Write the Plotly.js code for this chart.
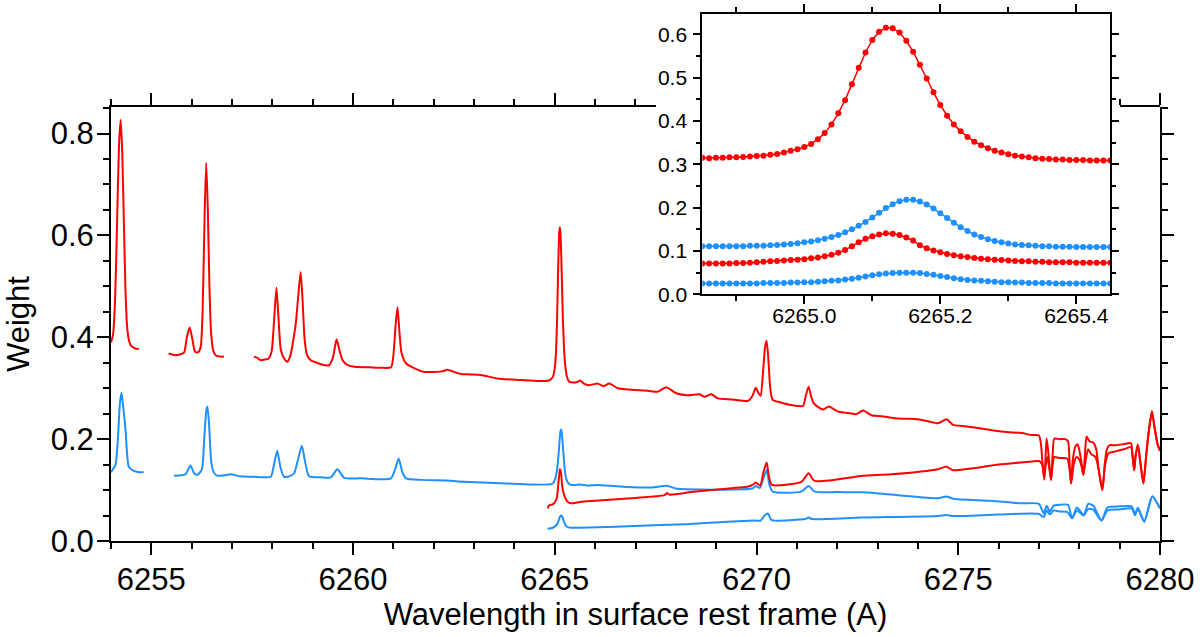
<!DOCTYPE html>
<html>
<head>
<meta charset="utf-8">
<script src="https://cdn.plot.ly/plotly-3.0.1.min.js"></script>
<style>
  html, body { margin: 0; padding: 0; background: #fff; }
  #graph { width: 1200px; height: 637px; }
</style>
</head>
<body>
<div id="graph"></div>
<script>
// Spectra: [wavelength (A), weight]; null = gap in the data
const upperRed = [
  [6254.00, 0.390], [6254.05, 0.405], [6254.10, 0.470], [6254.15, 0.623], [6254.20, 0.780],
  [6254.24, 0.827], [6254.28, 0.760], [6254.32, 0.623], [6254.36, 0.490], [6254.40, 0.420],
  [6254.45, 0.392], [6254.50, 0.383], [6254.60, 0.378], [6254.69, 0.377],
  [6255.00, null],
  [6255.43, 0.368], [6255.56, 0.365], [6255.70, 0.366], [6255.81, 0.370], [6255.88, 0.400],
  [6255.95, 0.419], [6256.02, 0.395], [6256.08, 0.372], [6256.15, 0.370], [6256.22, 0.380],
  [6256.27, 0.450], [6256.32, 0.640], [6256.36, 0.742], [6256.40, 0.650], [6256.44, 0.500],
  [6256.48, 0.410], [6256.53, 0.375], [6256.60, 0.364], [6256.70, 0.362], [6256.80, 0.362],
  [6257.20, null],
  [6257.54, 0.362], [6257.62, 0.360], [6257.71, 0.355], [6257.80, 0.356], [6257.90, 0.358],
  [6257.98, 0.372], [6258.04, 0.430], [6258.10, 0.497], [6258.15, 0.440], [6258.21, 0.375],
  [6258.30, 0.357], [6258.37, 0.352], [6258.45, 0.365], [6258.52, 0.395], [6258.58, 0.427],
  [6258.64, 0.480], [6258.70, 0.528], [6258.75, 0.470], [6258.80, 0.395], [6258.86, 0.365],
  [6258.95, 0.355], [6259.10, 0.350], [6259.20, 0.347], [6259.40, 0.345], [6259.50, 0.360],
  [6259.59, 0.396], [6259.66, 0.375], [6259.74, 0.355], [6259.85, 0.346], [6260.03, 0.342],
  [6260.40, 0.341], [6260.70, 0.340], [6260.94, 0.341], [6261.00, 0.365], [6261.05, 0.420],
  [6261.10, 0.459], [6261.15, 0.410], [6261.20, 0.370], [6261.31, 0.349], [6261.50, 0.340],
  [6261.76, 0.332], [6262.00, 0.332], [6262.20, 0.333], [6262.34, 0.336], [6262.50, 0.332],
  [6262.67, 0.328], [6262.90, 0.327], [6263.17, 0.326], [6263.58, 0.319], [6264.16, 0.316],
  [6264.60, 0.314], [6264.85, 0.315], [6264.95, 0.322], [6265.00, 0.340], [6265.03, 0.372],
  [6265.05, 0.418], [6265.07, 0.485], [6265.09, 0.558], [6265.11, 0.606], [6265.125, 0.616],
  [6265.14, 0.604], [6265.16, 0.560], [6265.18, 0.498], [6265.20, 0.437], [6265.23, 0.376],
  [6265.26, 0.344], [6265.30, 0.323], [6265.35, 0.313], [6265.44, 0.311], [6265.55, 0.312],
  [6265.63, 0.315], [6265.72, 0.309], [6265.86, 0.306], [6266.06, 0.309], [6266.21, 0.304],
  [6266.35, 0.309], [6266.56, 0.300], [6266.90, 0.297], [6267.31, 0.295], [6267.55, 0.293],
  [6267.76, 0.302], [6268.01, 0.290], [6268.30, 0.286], [6268.59, 0.288], [6268.71, 0.283],
  [6268.88, 0.288], [6269.04, 0.280], [6269.40, 0.278], [6269.79, 0.275], [6269.90, 0.285],
  [6269.98, 0.301], [6270.05, 0.290], [6270.10, 0.285], [6270.16, 0.330], [6270.21, 0.380],
  [6270.25, 0.393], [6270.29, 0.360], [6270.34, 0.300], [6270.40, 0.277], [6270.60, 0.272],
  [6270.86, 0.267], [6271.15, 0.265], [6271.22, 0.285], [6271.29, 0.303], [6271.35, 0.285],
  [6271.42, 0.270], [6271.65, 0.258], [6271.79, 0.264], [6272.02, 0.254], [6272.20, 0.252],
  [6272.47, 0.249], [6272.64, 0.256], [6272.85, 0.247], [6273.10, 0.245], [6273.42, 0.241],
  [6273.70, 0.240], [6274.00, 0.239], [6274.25, 0.235], [6274.50, 0.231], [6274.71, 0.239],
  [6274.87, 0.228], [6275.10, 0.226], [6275.41, 0.223], [6275.80, 0.218], [6276.20, 0.214],
  [6276.57, 0.212], [6276.82, 0.208], [6277.00, 0.207], [6277.05, 0.190], [6277.09, 0.150],
  [6277.13, 0.120], [6277.16, 0.160], [6277.19, 0.201], [6277.23, 0.175], [6277.27, 0.140],
  [6277.30, 0.120], [6277.34, 0.170], [6277.38, 0.201], [6277.50, 0.200], [6277.65, 0.200],
  [6277.72, 0.196], [6277.76, 0.150], [6277.79, 0.113], [6277.84, 0.160], [6277.90, 0.185],
  [6277.96, 0.190], [6278.02, 0.170], [6278.06, 0.150], [6278.10, 0.130], [6278.14, 0.170],
  [6278.18, 0.205], [6278.25, 0.196], [6278.35, 0.193], [6278.42, 0.180], [6278.48, 0.140],
  [6278.57, 0.100], [6278.63, 0.150], [6278.68, 0.179], [6278.75, 0.188], [6278.90, 0.188],
  [6279.10, 0.190], [6279.28, 0.192], [6279.32, 0.165], [6279.36, 0.139], [6279.40, 0.170],
  [6279.45, 0.190], [6279.52, 0.150], [6279.59, 0.113], [6279.66, 0.170], [6279.73, 0.220],
  [6279.80, 0.254], [6279.87, 0.220], [6279.94, 0.190], [6280.00, 0.177]
];

const upperBlue = [
  [6254.00, 0.135], [6254.03, 0.139], [6254.11, 0.149], [6254.17, 0.200], [6254.22, 0.270],
  [6254.26, 0.291], [6254.30, 0.265], [6254.36, 0.218], [6254.40, 0.170], [6254.44, 0.146],
  [6254.55, 0.138], [6254.70, 0.135], [6254.81, 0.135],
  [6255.10, null],
  [6255.56, 0.128], [6255.75, 0.129], [6255.85, 0.131], [6255.97, 0.148], [6256.06, 0.133],
  [6256.14, 0.130], [6256.25, 0.140], [6256.31, 0.200], [6256.36, 0.255], [6256.39, 0.264],
  [6256.43, 0.230], [6256.49, 0.152], [6256.56, 0.133], [6256.64, 0.128], [6256.80, 0.129],
  [6256.97, 0.131], [6257.20, 0.127], [6257.54, 0.126], [6257.80, 0.125], [6257.96, 0.126],
  [6258.04, 0.150], [6258.12, 0.177], [6258.20, 0.145], [6258.29, 0.126], [6258.45, 0.128],
  [6258.54, 0.133], [6258.62, 0.155], [6258.73, 0.187], [6258.80, 0.160], [6258.91, 0.127],
  [6259.20, 0.125], [6259.45, 0.125], [6259.61, 0.141], [6259.78, 0.124], [6260.20, 0.123],
  [6260.69, 0.121], [6260.94, 0.123], [6261.04, 0.140], [6261.13, 0.162], [6261.22, 0.135],
  [6261.31, 0.123], [6261.70, 0.120], [6262.34, 0.119], [6262.60, 0.117], [6263.20, 0.115],
  [6263.80, 0.113], [6264.40, 0.111], [6264.85, 0.111], [6264.95, 0.113], [6265.00, 0.120],
  [6265.05, 0.137], [6265.08, 0.158], [6265.10, 0.177], [6265.12, 0.199], [6265.14, 0.215],
  [6265.155, 0.219], [6265.17, 0.214], [6265.19, 0.198], [6265.21, 0.176], [6265.23, 0.155],
  [6265.25, 0.138], [6265.28, 0.123], [6265.32, 0.115], [6265.40, 0.110], [6265.50, 0.110],
  [6265.63, 0.111], [6265.80, 0.109], [6266.06, 0.110], [6266.39, 0.1085], [6266.80, 0.106],
  [6267.40, 0.105], [6267.78, 0.1085], [6268.00, 0.103], [6268.63, 0.101], [6269.40, 0.101],
  [6269.90, 0.103], [6269.98, 0.108], [6270.08, 0.104], [6270.18, 0.125], [6270.25, 0.139],
  [6270.32, 0.110], [6270.40, 0.097], [6271.11, 0.097], [6271.29, 0.108], [6271.44, 0.097],
  [6272.00, 0.096], [6272.64, 0.0955], [6273.50, 0.090], [6274.50, 0.084], [6274.71, 0.0875],
  [6274.87, 0.083], [6275.80, 0.079], [6276.57, 0.074], [6277.00, 0.073], [6277.12, 0.054],
  [6277.19, 0.069], [6277.27, 0.058], [6277.36, 0.069], [6277.50, 0.071], [6277.72, 0.071],
  [6277.82, 0.0445], [6277.94, 0.066], [6278.11, 0.051], [6278.22, 0.073], [6278.35, 0.069],
  [6278.55, 0.040], [6278.70, 0.066], [6279.00, 0.068], [6279.30, 0.068], [6279.38, 0.051],
  [6279.45, 0.066], [6279.61, 0.038], [6279.81, 0.088], [6280.00, 0.064]
];

const lowerRed = [
  [6264.82, 0.064], [6264.86, 0.070], [6264.95, 0.072], [6265.00, 0.076], [6265.05, 0.085],
  [6265.07, 0.096], [6265.09, 0.115], [6265.11, 0.130], [6265.125, 0.141], [6265.14, 0.139],
  [6265.16, 0.130], [6265.18, 0.110], [6265.20, 0.100], [6265.25, 0.086], [6265.30, 0.079],
  [6265.36, 0.075], [6265.45, 0.074], [6265.65, 0.077], [6266.00, 0.079], [6266.89, 0.084],
  [6267.72, 0.090], [6267.78, 0.094], [6267.85, 0.091], [6268.38, 0.096], [6268.88, 0.100],
  [6269.79, 0.107], [6269.90, 0.110], [6269.98, 0.115], [6270.09, 0.109], [6270.17, 0.135],
  [6270.25, 0.154], [6270.31, 0.125], [6270.38, 0.110], [6271.11, 0.116], [6271.29, 0.133],
  [6271.44, 0.118], [6272.64, 0.128], [6273.34, 0.131], [6274.50, 0.141], [6274.71, 0.146],
  [6274.87, 0.139], [6276.00, 0.150], [6276.82, 0.156], [6277.00, 0.157], [6277.08, 0.150],
  [6277.13, 0.125], [6277.17, 0.150], [6277.21, 0.165], [6277.26, 0.140], [6277.30, 0.120],
  [6277.34, 0.150], [6277.38, 0.165], [6277.50, 0.163], [6277.70, 0.162], [6277.76, 0.140],
  [6277.80, 0.113], [6277.86, 0.150], [6277.93, 0.165], [6278.00, 0.160], [6278.06, 0.145],
  [6278.10, 0.130], [6278.16, 0.160], [6278.22, 0.180], [6278.30, 0.170], [6278.40, 0.165],
  [6278.48, 0.140], [6278.57, 0.100], [6278.64, 0.150], [6278.72, 0.172], [6278.90, 0.176],
  [6279.10, 0.180], [6279.28, 0.184], [6279.33, 0.160], [6279.36, 0.139], [6279.40, 0.170],
  [6279.46, 0.186], [6279.52, 0.150], [6279.59, 0.113], [6279.66, 0.170], [6279.73, 0.220],
  [6279.80, 0.254], [6279.87, 0.220], [6279.94, 0.190], [6280.00, 0.177]
];

const lowerBlue = [
  [6264.82, 0.024], [6264.95, 0.026], [6265.05, 0.032], [6265.10, 0.041], [6265.13, 0.048],
  [6265.16, 0.050], [6265.19, 0.047], [6265.22, 0.040], [6265.26, 0.032], [6265.30, 0.028],
  [6265.40, 0.026], [6265.60, 0.026], [6266.50, 0.028], [6267.78, 0.032], [6268.38, 0.0335],
  [6268.63, 0.035], [6269.94, 0.040], [6270.10, 0.040], [6270.20, 0.050], [6270.28, 0.054],
  [6270.36, 0.042], [6270.45, 0.040], [6271.20, 0.043], [6271.29, 0.046], [6271.38, 0.043],
  [6272.60, 0.046], [6274.50, 0.049], [6274.71, 0.051], [6274.87, 0.049], [6276.00, 0.052],
  [6277.00, 0.053], [6277.12, 0.047], [6277.19, 0.060], [6277.27, 0.052], [6277.36, 0.060],
  [6277.50, 0.058], [6277.70, 0.057], [6277.82, 0.0445], [6277.94, 0.060], [6278.11, 0.050],
  [6278.22, 0.063], [6278.35, 0.061], [6278.55, 0.040], [6278.70, 0.060], [6279.00, 0.062],
  [6279.30, 0.064], [6279.38, 0.051], [6279.45, 0.064], [6279.61, 0.038], [6279.81, 0.088],
  [6280.00, 0.064]
];

// Inset: sampled points around the 6265.1 A line
const insetWl = [
  6264.85, 6264.86, 6264.87, 6264.88, 6264.89, 6264.90, 6264.91, 6264.92, 6264.93, 6264.94,
  6264.95, 6264.96, 6264.97, 6264.98, 6264.99, 6265.00, 6265.01, 6265.02, 6265.03, 6265.04,
  6265.05, 6265.06, 6265.07, 6265.08, 6265.09, 6265.10, 6265.11, 6265.12, 6265.13, 6265.14,
  6265.15, 6265.16, 6265.17, 6265.18, 6265.19, 6265.20, 6265.21, 6265.22, 6265.23, 6265.24,
  6265.25, 6265.26, 6265.27, 6265.28, 6265.29, 6265.30, 6265.31, 6265.32, 6265.33, 6265.34,
  6265.35, 6265.36, 6265.37, 6265.38, 6265.39, 6265.40, 6265.41, 6265.42, 6265.43, 6265.44,
  6265.45
];
const insetUpperRed = [
  0.315, 0.314, 0.315, 0.315, 0.316, 0.316, 0.317, 0.318, 0.319, 0.320,
  0.322, 0.324, 0.327, 0.331, 0.335, 0.340, 0.347, 0.358, 0.372, 0.392,
  0.418, 0.448, 0.485, 0.523, 0.558, 0.587, 0.606, 0.615, 0.614, 0.604,
  0.585, 0.560, 0.530, 0.498, 0.466, 0.437, 0.412, 0.392, 0.376, 0.363,
  0.352, 0.344, 0.337, 0.331, 0.327, 0.323, 0.320, 0.318, 0.316, 0.314,
  0.313, 0.312, 0.311, 0.311, 0.310, 0.310, 0.310, 0.309, 0.309, 0.309,
  0.309
];
const insetUpperBlue = [
  0.111, 0.111, 0.111, 0.111, 0.111, 0.111, 0.111, 0.112, 0.112, 0.112,
  0.113, 0.114, 0.115, 0.116, 0.118, 0.120, 0.122, 0.125, 0.128, 0.132,
  0.137, 0.143, 0.150, 0.158, 0.167, 0.177, 0.188, 0.199, 0.208, 0.215,
  0.218, 0.218, 0.214, 0.207, 0.198, 0.187, 0.176, 0.165, 0.155, 0.146,
  0.138, 0.132, 0.127, 0.123, 0.120, 0.117, 0.115, 0.114, 0.113, 0.112,
  0.111, 0.111, 0.110, 0.110, 0.110, 0.109, 0.109, 0.109, 0.109, 0.109,
  0.109
];
const insetLowerRed = [
  0.071, 0.071, 0.071, 0.071, 0.071, 0.072, 0.072, 0.073, 0.074, 0.075,
  0.076, 0.077, 0.078, 0.079, 0.080, 0.081, 0.083, 0.085, 0.088, 0.091,
  0.096, 0.102, 0.111, 0.120, 0.128, 0.134, 0.138, 0.141, 0.140, 0.137,
  0.131, 0.124, 0.113, 0.106, 0.101, 0.097, 0.093, 0.090, 0.088, 0.086,
  0.084, 0.082, 0.081, 0.080, 0.079, 0.078, 0.077, 0.076, 0.076, 0.075,
  0.075, 0.074, 0.074, 0.074, 0.074, 0.073, 0.073, 0.073, 0.073, 0.073,
  0.073
];
const insetLowerBlue = [
  0.025, 0.025, 0.025, 0.025, 0.025, 0.025, 0.025, 0.025, 0.025, 0.026,
  0.026, 0.026, 0.026, 0.027, 0.027, 0.028, 0.028, 0.029, 0.030, 0.031,
  0.032, 0.034, 0.036, 0.038, 0.041, 0.044, 0.046, 0.048, 0.049, 0.050,
  0.050, 0.050, 0.049, 0.047, 0.045, 0.042, 0.040, 0.037, 0.035, 0.033,
  0.032, 0.031, 0.030, 0.029, 0.028, 0.028, 0.027, 0.027, 0.026, 0.026,
  0.026, 0.026, 0.025, 0.025, 0.025, 0.025, 0.025, 0.025, 0.025, 0.025,
  0.025
];

const RED = "rgb(255,0,0)";
const BLUE = "rgb(30,144,255)";
const FONT = "Liberation Sans, Arial, sans-serif";

function spectrumTrace(pairs, color) {
  return {
    x: pairs.map((p) => p[0]),
    y: pairs.map((p) => p[1]),
    mode: "lines",
    type: "scatter",
    line: { color: color, width: 2, shape: "spline", smoothing: 0.6 },
    connectgaps: false,
    hoverinfo: "skip",
  };
}

function insetTrace(values, color) {
  return {
    x: insetWl,
    y: values,
    xaxis: "x2",
    yaxis: "y2",
    mode: "lines+markers",
    type: "scatter",
    line: { color: color, width: 1.5 },
    marker: { color: color, size: 6 },
    hoverinfo: "skip",
  };
}

// empty traces, only so the broken top axis pieces are drawn
const topLeft = { x: [], y: [], xaxis: "x3", yaxis: "y", type: "scatter", mode: "lines" };
const topRight = { x: [], y: [], xaxis: "x4", yaxis: "y", type: "scatter", mode: "lines" };

const traces = [
  spectrumTrace(upperRed, RED),
  spectrumTrace(upperBlue, BLUE),
  spectrumTrace(lowerRed, RED),
  spectrumTrace(lowerBlue, BLUE),
  topLeft,
  topRight,
  insetTrace(insetUpperRed, RED),
  insetTrace(insetUpperBlue, BLUE),
  insetTrace(insetLowerRed, RED),
  insetTrace(insetLowerBlue, BLUE),
];

const axisCommon = {
  showline: true,
  linecolor: "black",
  linewidth: 2,
  ticks: "outside",
  tickcolor: "black",
  tickwidth: 2,
  showgrid: false,
  zeroline: false,
  fixedrange: true,
};

const mainX = Object.assign({}, axisCommon, {
  domain: [0, 1],
  range: [6254, 6280],
  anchor: "y",
  tickmode: "linear",
  tick0: 6255,
  dtick: 5,
  ticklen: 12,
  minor: { dtick: 1, ticklen: 6, tickwidth: 2, tickcolor: "black", ticks: "outside", showgrid: false },
  tickfont: { family: FONT, size: 31, color: "black" },
  ticklabelstandoff: -2,
  title: {
    text: "Wavelength in surface rest frame (A)",
    font: { family: FONT, size: 31, color: "black" },
    standoff: 4,
  },
});

const topAxisPiece = (domain, range) =>
  Object.assign({}, axisCommon, {
    domain: domain,
    range: range,
    anchor: "y",
    side: "top",
    tickmode: "linear",
    tick0: 6255,
    dtick: 5,
    ticklen: 12,
    minor: { dtick: 1, ticklen: 6, tickwidth: 2, tickcolor: "black", ticks: "outside", showgrid: false },
    showticklabels: false,
  });

const layout = {
  width: 1200,
  height: 637,
  margin: { l: 111, r: 40, t: 10, b: 96 },
  paper_bgcolor: "white",
  plot_bgcolor: "rgba(0,0,0,0)",
  showlegend: false,
  font: { family: FONT, color: "black" },
  xaxis: mainX,
  yaxis: Object.assign({}, axisCommon, {
    domain: [0, 0.8173],
    range: [0, 0.852],
    anchor: "x",
    mirror: "ticks",
    tickmode: "linear",
    tick0: 0,
    dtick: 0.2,
    tickformat: ".1f",
    ticklen: 12,
    minor: { dtick: 0.05, ticklen: 6, tickwidth: 2, tickcolor: "black", ticks: "outside", showgrid: false },
    tickfont: { family: FONT, size: 31, color: "black" },
    ticklabelstandoff: -3,
    title: {
      text: "Weight",
      font: { family: FONT, size: 31, color: "black" },
      standoff: 12,
    },
  }),
  xaxis3: topAxisPiece([0, 0.5176], [6254, 6267.458]),
  xaxis4: topAxisPiece([0.9614, 1], [6279.0, 6280]),
  xaxis2: Object.assign({}, axisCommon, {
    domain: [0.5637, 0.9526],
    range: [6264.85, 6265.45],
    anchor: "y2",
    mirror: "ticks",
    tickmode: "linear",
    tick0: 6265.0,
    dtick: 0.2,
    tickformat: ".1f",
    ticklen: 8,
    minor: { dtick: 0.1, ticklen: 5, tickwidth: 2, tickcolor: "black", ticks: "outside", showgrid: false },
    tickfont: { family: FONT, size: 21, color: "black" },
    ticklabelstandoff: -6,
  }),
  yaxis2: Object.assign({}, axisCommon, {
    domain: [0.4646, 0.9934],
    range: [0, 0.648],
    anchor: "x2",
    mirror: "ticks",
    tickmode: "linear",
    tick0: 0,
    dtick: 0.1,
    tickformat: ".1f",
    ticklen: 7,
    minor: { dtick: 0.05, ticklen: 4, tickwidth: 2, tickcolor: "black", ticks: "outside", showgrid: false },
    tickfont: { family: FONT, size: 21, color: "black" },
    ticklabelstandoff: 2,
  }),
};

const config = { displayModeBar: false, staticPlot: true };

Plotly.newPlot("graph", traces, layout, config);
</script>
</body>
</html>
